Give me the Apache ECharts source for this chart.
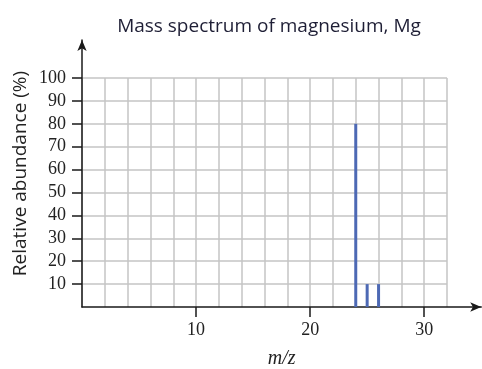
<!DOCTYPE html>
<html><head><meta charset="utf-8">
<script src="https://cdn.jsdelivr.net/npm/echarts@6/dist/echarts.min.js"></script>
<style>html,body{margin:0;padding:0;background:#fff}#c{width:482px;height:369px}</style>
</head><body><div id="c"></div>
<script>
const titleText = 'Mass spectrum of magnesium, Mg';
const xName = 'm/z';
const yName = 'Relative abundance (%)';
const massToCharge = [24, 25, 26];
const abundance = [80, 10, 10];
const xTickLabels = [10, 20, 30];
const yTickLabels = [10, 20, 30, 40, 50, 60, 70, 80, 90, 100];

const serif = '"Liberation Serif", "DejaVu Serif", serif';
const sans = '"Open Sans", "Noto Sans", sans-serif';
const gridColor = '#c4c4c4';
const axisColor = '#1a1a1a';

const xMax = 32, xArrowMax = 35;
const plotW = 365;

const chart = echarts.init(document.getElementById('c'));
chart.setOption({
  animation: false,
  backgroundColor: '#fff',
  title: {
    text: titleText, left: 264, top: 12, textAlign: 'center',
    textStyle: {fontFamily: sans, fontSize: 19, fontWeight: 'normal', color: '#1e1e35'}
  },
  grid: [
    {left: 82, top: 78, width: plotW, height: 229, outerBoundsMode: 'none', containLabel: false},
    {left: 82, top: 40, width: plotW * xArrowMax / xMax, bottom: 62, outerBoundsMode: 'none', containLabel: false},
    {left: 82, top: 317, width: plotW, height: 10, outerBoundsMode: 'none', containLabel: false}
  ],
  xAxis: [
    {
      type: 'value', gridIndex: 0, position: 'bottom', min: 0, max: xMax, interval: 2,
      axisLine: {show: false, onZero: false},
      axisTick: {show: false},
      axisLabel: {customValues: xTickLabels, margin: 14, fontFamily: serif, fontSize: 18, color: '#222'},
      splitLine: {show: false}
    },
    {
      type: 'value', gridIndex: 1, position: 'bottom', min: 0, max: xArrowMax,
      name: xName, nameLocation: 'middle', nameGap: 42,
      nameTextStyle: {fontFamily: serif, fontStyle: 'italic', fontSize: 20, color: '#222'},
      axisLine: {show: true, onZero: false, symbol: ['none', 'arrow'], symbolSize: [7, 11], lineStyle: {color: axisColor, width: 1.5}},
      axisTick: {show: false}, axisLabel: {show: false}, splitLine: {show: false}
    },
    {
      type: 'value', gridIndex: 0, position: 'bottom', min: 0, max: xMax, interval: 2,
      axisLine: {show: false, onZero: false}, axisTick: {show: false}, axisLabel: {show: false},
      splitLine: {show: true, lineStyle: {color: gridColor, width: 1.5}}
    },
    {
      type: 'value', gridIndex: 2, position: 'top', min: 0, max: xMax, interval: 2,
      axisLine: {show: false},
      axisTick: {customValues: xTickLabels, length: 10, lineStyle: {color: axisColor, width: 1.5}},
      axisLabel: {customValues: xTickLabels, fontSize: 10, color: 'rgba(0,0,0,0)'},
      splitLine: {show: false}
    }
  ],
  yAxis: [
    {
      type: 'value', gridIndex: 0, position: 'left', min: 0, max: 100, interval: 10,
      axisLine: {show: false, onZero: false},
      axisTick: {show: true, customValues: yTickLabels, length: 10, lineStyle: {color: axisColor, width: 1.5}},
      axisLabel: {customValues: yTickLabels, margin: 16, fontFamily: serif, fontSize: 18, color: '#222'},
      splitLine: {show: true, lineStyle: {color: gridColor, width: 1.5}}
    },
    {
      type: 'value', gridIndex: 1, position: 'left', min: 0, max: 1,
      name: yName, nameLocation: 'middle', nameGap: 52, nameRotate: 90,
      nameTextStyle: {fontFamily: sans, fontSize: 19, color: '#222'},
      axisLine: {show: true, onZero: false, symbol: ['none', 'arrow'], symbolSize: [7, 11], lineStyle: {color: axisColor, width: 1.5}},
      axisTick: {show: false}, axisLabel: {show: false}, splitLine: {show: false}
    },
    {
      type: 'value', gridIndex: 2, position: 'left', min: 1, max: 2,
      axisLine: {show: false, onZero: false}, axisTick: {show: false}, axisLabel: {show: false}, splitLine: {show: false}
    }
  ],
  series: [{
    type: 'bar', xAxisIndex: 0, yAxisIndex: 0,
    barWidth: 3,
    itemStyle: {color: '#4d69b4'},
    data: massToCharge.map((m, i) => [m, abundance[i]])
  }]
});
</script></body></html>
